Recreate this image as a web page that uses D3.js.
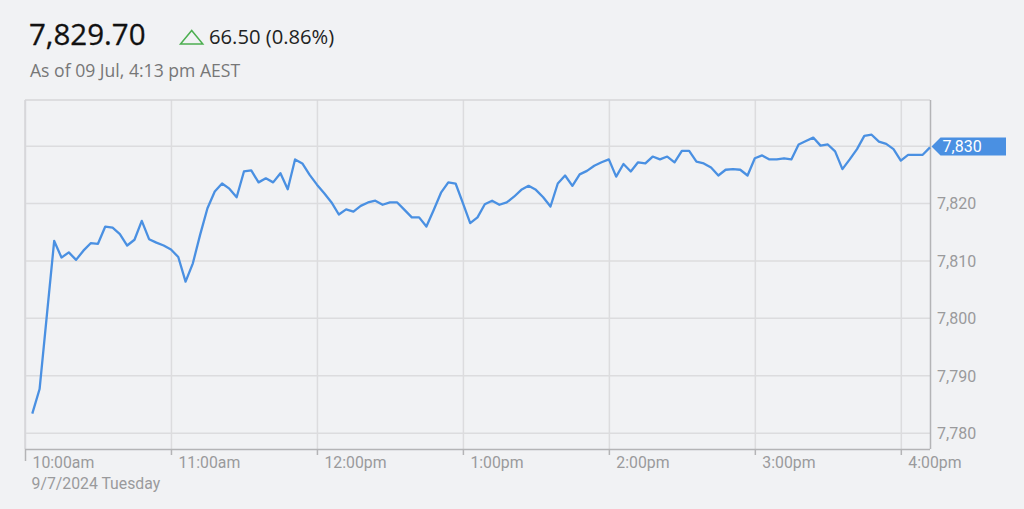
<!DOCTYPE html>
<html>
<head>
<meta charset="utf-8">
<script src="https://cdn.jsdelivr.net/npm/d3@7"></script>
<style>
  html, body { margin: 0; padding: 0; background: #f1f2f4; }
  svg { display: block; }
</style>
</head>
<body>
<svg id="chart" width="1024" height="509"></svg>
<script>
// ---- data ----
const startMinute = 3;      // first sample at 10:03
const stepMinutes = 3;      // one sample every 3 minutes
const values = [
  7783.3, 7787.6, 7800.5, 7813.4, 7810.5, 7811.4, 7810.1, 7811.7, 7813.0, 7812.9,
  7815.9, 7815.7, 7814.6, 7812.6, 7813.6, 7816.9, 7813.7, 7813.1, 7812.6, 7811.9,
  7810.6, 7806.3, 7809.5, 7814.5, 7819.1, 7822.0, 7823.4, 7822.5, 7821.0, 7825.5,
  7825.7, 7823.6, 7824.3, 7823.6, 7825.2, 7822.4, 7827.6, 7826.9, 7824.9, 7823.2,
  7821.7, 7820.1, 7818.0, 7818.9, 7818.5, 7819.5, 7820.1, 7820.4, 7819.7, 7820.1,
  7820.1, 7818.8, 7817.5, 7817.5, 7815.9, 7818.8, 7821.8, 7823.6, 7823.4, 7820.0,
  7816.5, 7817.5, 7819.8, 7820.4, 7819.7, 7820.1, 7821.1, 7822.3, 7823.0, 7822.3,
  7821.0, 7819.4, 7823.4, 7824.8, 7823.0, 7825.0, 7825.6, 7826.5, 7827.1, 7827.6,
  7824.6, 7826.8, 7825.5, 7827.1, 7826.9, 7828.1, 7827.6, 7828.1, 7827.1, 7829.1,
  7829.1, 7827.2, 7826.9, 7826.2, 7824.8, 7825.8, 7825.9, 7825.8, 7824.8, 7827.8,
  7828.3, 7827.6, 7827.6, 7827.8, 7827.6, 7830.2, 7830.8, 7831.4, 7830.0, 7830.2,
  7829.0, 7825.9, 7827.6, 7829.4, 7831.7, 7831.9, 7830.7, 7830.3, 7829.4, 7827.4,
  7828.4, 7828.4, 7828.4, 7829.7
];
const xTickHours = [10, 11, 12, 13, 14, 15, 16];
const xTickLabels = ["10:00am", "11:00am", "12:00pm", "1:00pm", "2:00pm", "3:00pm", "4:00pm"];
const yTickValues = [7780, 7790, 7800, 7810, 7820, 7830];
const dateLabel = "9/7/2024 Tuesday";
const lastPrice = "7,829.70";
const changeText = "66.50 (0.86%)";
const asOfText = "As of 09 Jul, 4:13 pm AEST";
const tagLabel = "7,830";

// ---- layout ----
const L = 25, R = 930, T = 100, B = 449;
const svg = d3.select("#chart");

const t0 = new Date(2024, 6, 9, 10, 0);
const tAt = m => new Date(t0.getTime() + m * 60000);
const data = values.map((v, i) => ({ t: tAt(startMinute + i * stepMinutes), v }));

const x = d3.scaleTime().domain([t0, tAt(372)]).range([L, R]);
const y = d3.scaleLinear().domain([7777.15, 7837.95]).range([B, T]);

// header
svg.append("text").attr("x", 29).attr("y", 45)
  .attr("font-family", "Open Sans").attr("font-size", 29.5).attr("fill", "#111")
  .attr("stroke", "#111").attr("stroke-width", 0.3)
  .text(lastPrice);
svg.append("path")
  .attr("d", "M180.5,44 L191.7,30.5 L202.8,44 Z")
  .attr("fill", "none").attr("stroke", "#4caf50").attr("stroke-width", 1.5);
svg.append("text").attr("x", 209).attr("y", 44)
  .attr("font-family", "Open Sans").attr("font-size", 20.2).attr("fill", "#222")
  .text(changeText);
svg.append("text").attr("x", 30).attr("y", 77)
  .attr("font-family", "Open Sans").attr("font-size", 17.6).attr("fill", "#777")
  .text(asOfText);

// horizontal grid
const gy = svg.append("g").attr("transform", `translate(${L},0)`)
  .call(d3.axisLeft(y).tickValues(yTickValues).tickSize(-(R - L)).tickFormat(""));
gy.select(".domain").remove();
gy.selectAll(".tick line").attr("stroke", "#dcdcde").attr("stroke-width", 1.5);

// vertical grid
const xTickDates = xTickHours.map(h => new Date(2024, 6, 9, h, 0));
const gx = svg.append("g").attr("transform", `translate(0,${B})`)
  .call(d3.axisBottom(x).tickValues(xTickDates).tickSize(-(B - T)).tickFormat(""));
gx.select(".domain").remove();
gx.selectAll(".tick line").attr("stroke", "#dcdcde").attr("stroke-width", 1.5);

// frame top/left
svg.append("line").attr("x1", L).attr("x2", R).attr("y1", T).attr("y2", T)
  .attr("stroke", "#d6d6d8").attr("stroke-width", 1.5);
svg.append("line").attr("x1", L).attr("x2", L).attr("y1", T).attr("y2", B)
  .attr("stroke", "#d6d6d8").attr("stroke-width", 1.5);

// x axis
const xa = svg.append("g").attr("transform", `translate(0,${B})`)
  .call(d3.axisBottom(x).tickValues(xTickDates).tickSize(6)
    .tickFormat((d, i) => xTickLabels[i]));
xa.select(".domain").attr("stroke", "#b4b4b6").attr("stroke-width", 1.5)
  .attr("d", `M${L},0.5H${R}`);
xa.selectAll(".tick line").attr("stroke", "#b4b4b6").attr("stroke-width", 1.5)
  .attr("y2", (d, i) => i === 0 ? 12 : 6);
xa.selectAll(".tick text")
  .attr("text-anchor", "start").attr("x", 7).attr("y", 19).attr("dy", 0)
  .attr("font-family", "Roboto").attr("font-size", 15.8).attr("fill", "#9a9a9c");
svg.append("text").attr("x", 31.5).attr("y", 489)
  .attr("font-family", "Roboto").attr("font-size", 15.8).attr("fill", "#9a9a9c")
  .text(dateLabel);

// y axis (right); the last-value tag covers the 7,830 label
const ya = svg.append("g").attr("transform", `translate(${R},0)`)
  .call(d3.axisRight(y).tickValues(yTickValues).tickSize(0).tickPadding(7)
    .tickFormat(d3.format(",")));
ya.select(".domain").attr("stroke", "#b4b4b6").attr("stroke-width", 1.5)
  .attr("d", `M0.5,${T}V${B}`);
ya.selectAll(".tick text")
  .attr("font-family", "Roboto").attr("font-size", 16).attr("fill", "#9a9a9c")
  .attr("dy", "0.36em");
ya.selectAll(".tick").filter(d => d === 7830).remove();

// line
svg.append("path").datum(data)
  .attr("fill", "none").attr("stroke", "#4a90e2").attr("stroke-width", 2.3)
  .attr("stroke-linejoin", "round")
  .attr("d", d3.line().x(d => x(d.t)).y(d => y(d.v)));

// current value tag
const last = data[data.length - 1];
const ty = y(last.v) - 0.8;
const tx = x(last.t) + 1.5;
svg.append("path")
  .attr("d", `M${tx},${ty} L${tx + 9},${ty - 9} L${1006},${ty - 9} L${1006},${ty + 9} L${tx + 9},${ty + 9} Z`)
  .attr("fill", "#4a90e2");
svg.append("text").attr("x", tx + 11).attr("y", ty + 5.5)
  .attr("font-family", "Roboto").attr("font-size", 16).attr("fill", "#fff")
  .text(tagLabel);
</script>
</body>
</html>
